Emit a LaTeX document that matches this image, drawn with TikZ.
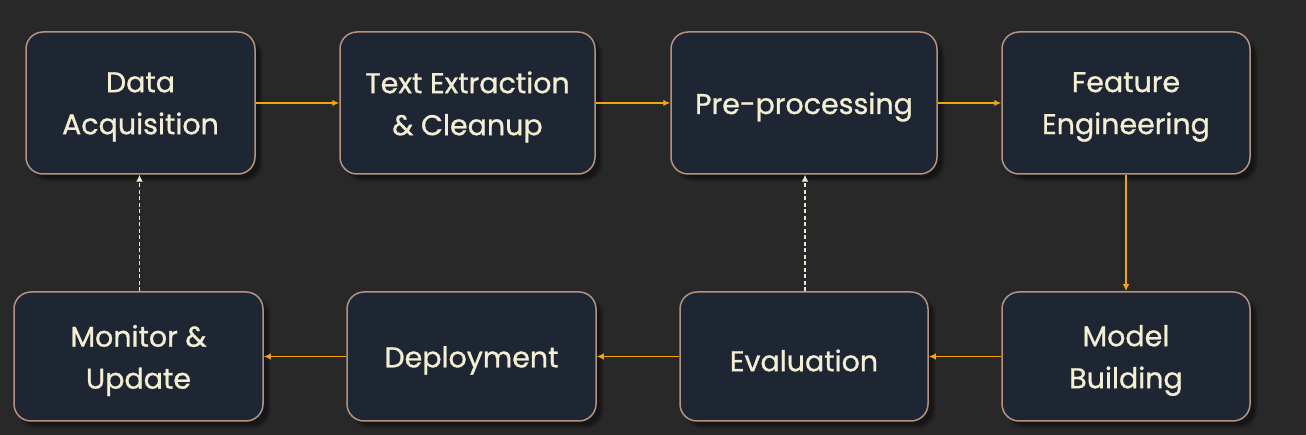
\documentclass[tikz,border=0pt]{standalone}
\usepackage{fontspec}
\setmainfont{Poppins}
\newfontfamily\stagefont{Poppins}[FakeBold=0.9]
\usetikzlibrary{arrows.meta,shadows.blur}
\definecolor{bg}{HTML}{282828}
\definecolor{boxfill}{HTML}{1E2533}
\definecolor{boxline}{HTML}{B4937F}
\definecolor{txt}{HTML}{F4EFD2}
\definecolor{flow}{HTML}{F2A50C}
\definecolor{fb}{HTML}{EDE6CF}
\tikzset{
  stage/.style={draw=boxline, line width=1.5pt, fill=boxfill, rounded corners=17pt, inner sep=0pt,
    blur shadow={shadow xshift=6pt, shadow yshift=-6pt, shadow blur steps=6, shadow opacity=45}},
  stagetext/.style={text=txt, font=\stagefont\fontsize{28.5}{42}\selectfont, align=center,
    inner sep=0pt, yshift=-4pt},
  flowarrow/.style={draw=flow, line width=1.9pt, -{Latex[length=7pt,width=6.5pt]}},
  backarrow/.style={draw=fb, line width=1.7pt, dash pattern=on 4pt off 2.5pt, -{Latex[length=7pt,width=7pt]}}
}
\begin{document}
\begin{tikzpicture}[x=1pt,y=1pt]
\fill[bg] (0,0) rectangle (1306,435);
\useasboundingbox (0,0) rectangle (1306,435);
% row 1
\node[stage, minimum width=229pt, minimum height=142pt, label={[stagetext]center:{Data\\Acquisition}}] (acq) at (140.5,332) {};
\node[stage, minimum width=255pt, minimum height=142pt, label={[stagetext]center:{Text Extraction\\\& Cleanup}}] (ext) at (467.5,332) {};
\node[stage, minimum width=266pt, minimum height=142pt, label={[stagetext]center:{Pre-processing}}] (pre) at (804,332) {};
\node[stage, minimum width=248pt, minimum height=142pt, label={[stagetext]center:{Feature\\Engineering}}] (feat) at (1126,332) {};
% row 2
\node[stage, minimum width=249pt, minimum height=129pt, label={[stagetext]center:{Monitor \&\\Update}}] (mon) at (138.5,78.5) {};
\node[stage, minimum width=249pt, minimum height=129pt, label={[stagetext]center:{Deployment}}] (dep) at (471.5,78.5) {};
\node[stage, minimum width=248pt, minimum height=129pt, label={[stagetext]center:{Evaluation}}] (eval) at (804,78.5) {};
\node[stage, minimum width=248pt, minimum height=129pt, label={[stagetext]center:{Model\\Building}}] (model) at (1126,78.5) {};
% flow
\draw[flowarrow] (acq) -- (ext);
\draw[flowarrow] (ext) -- (pre);
\draw[flowarrow] (pre) -- (feat);
\draw[flowarrow] (feat) -- (model);
\draw[flowarrow] (model) -- (eval);
\draw[flowarrow] (eval) -- (dep);
\draw[flowarrow] (dep) -- (mon);
% feedback
\draw[backarrow] (mon.north) ++(1,0) coordinate (m1) -- (m1 |- acq.south);
\draw[backarrow] (eval.north) ++(1,0) coordinate (e1) -- (e1 |- pre.south);
\end{tikzpicture}
\end{document}
